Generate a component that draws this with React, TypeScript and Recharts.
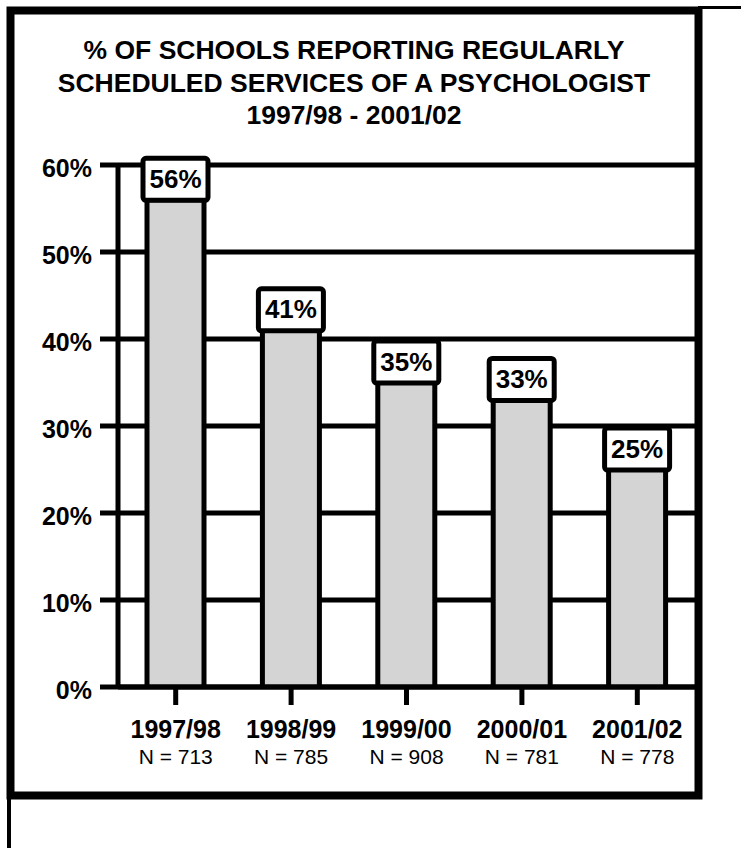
import React from "react";
import {
  BarChart,
  Bar,
  XAxis,
  YAxis,
  CartesianGrid,
  LabelList,
  Customized,
} from "recharts";

// School years surveyed and the share of schools with a scheduled psychologist
const years = ["1997/98", "1998/99", "1999/00", "2000/01", "2001/02"];
const sampleSizes = [713, 785, 908, 781, 778];
const percentValues = [56, 41, 35, 33, 25];
const yTicks = [0, 10, 20, 30, 40, 50, 60];
const titleLines = [
  "% OF SCHOOLS REPORTING REGULARLY",
  "SCHEDULED SERVICES OF A PSYCHOLOGIST",
  "1997/98 - 2001/02",
];

const data = years.map((year, i) => ({
  year,
  n: sampleSizes[i],
  value: percentValues[i],
}));

const FONT = '"Liberation Sans", Arial, Helvetica, sans-serif';
const W = 741;
const H = 848;

const YTick = (props: any) => {
  const { x, y, payload } = props;
  return (
    <text
      x={x}
      y={y + 12}
      textAnchor="end"
      fontFamily={FONT}
      fontWeight="bold"
      fontSize={25}
      fill="#000"
    >
      {`${payload.value}%`}
    </text>
  );
};

const XTick = (props: any) => {
  const { x, y, payload, index } = props;
  const n = sampleSizes[index] ?? data.find((d) => d.year === payload.value)?.n;
  return (
    <g>
      <text
        x={x}
        y={y + 31}
        textAnchor="middle"
        fontFamily={FONT}
        fontWeight="bold"
        fontSize={25}
        fill="#000"
      >
        {payload.value}
      </text>
      <text
        x={x}
        y={y + 57}
        textAnchor="middle"
        fontFamily={FONT}
        fontSize={21}
        fill="#000"
      >
        {`N = ${n}`}
      </text>
    </g>
  );
};

// Boxed percentage label sitting on top of each bar
const ValueBox = (props: any) => {
  const { x, y, width, value } = props;
  const cx = x + width / 2;
  const boxW = 65;
  const boxH = 42;
  return (
    <g>
      <rect
        x={cx - boxW / 2}
        y={y - boxH + 0.5}
        width={boxW}
        height={boxH}
        rx={3}
        ry={3}
        fill="#fff"
        stroke="#000"
        strokeWidth={5}
      />
      <text
        x={cx}
        y={y - 12}
        textAnchor="middle"
        fontFamily={FONT}
        fontWeight="bold"
        fontSize={26}
        fill="#000"
      >
        {`${value}%`}
      </text>
    </g>
  );
};

// Page frame and heading
const FrameAndTitle = () => (
  <g>
    <rect
      x={10.5}
      y={10.5}
      width={688}
      height={785}
      fill="none"
      stroke="#000"
      strokeWidth={8}
    />
    <line x1={698} y1={7.5} x2={W} y2={7.5} stroke="#000" strokeWidth={3} />
    <line x1={9} y1={795} x2={9} y2={H} stroke="#000" strokeWidth={4} />
    {titleLines.map((t, i) => (
      <text
        key={i}
        x={354}
        y={59 + i * 32.5}
        textAnchor="middle"
        fontFamily={FONT}
        fontWeight="bold"
        fontSize={26.5}
        fill="#000"
      >
        {t}
      </text>
    ))}
  </g>
);

export default function App() {
  return (
    <div
      style={{
        position: "absolute",
        left: 0,
        top: 0,
        width: W,
        height: H,
        background: "#fff",
      }}
    >
      <BarChart
        width={W}
        height={H}
        data={data}
        margin={{ top: 165, right: 46, bottom: 101, left: 18 }}
      >
        <Customized component={FrameAndTitle} />
        <CartesianGrid
          vertical={false}
          stroke="#000"
          strokeWidth={5}
          strokeOpacity={1}
        />
        <YAxis
          width={100}
          domain={[0, 60]}
          ticks={yTicks}
          interval={0}
          allowDataOverflow
          tickSize={18}
          tickMargin={8}
          axisLine={{ stroke: "#000", strokeWidth: 5 }}
          tickLine={{ stroke: "#000", strokeWidth: 5 }}
          tick={<YTick />}
        />
        <XAxis
          dataKey="year"
          height={60}
          interval={0}
          tickSize={18}
          tickMargin={2}
          axisLine={{ stroke: "#000", strokeWidth: 5 }}
          tickLine={{ stroke: "#000", strokeWidth: 5 }}
          tick={<XTick />}
        />
        <Bar
          dataKey="value"
          barSize={57}
          fill="#d4d4d4"
          stroke="#000"
          strokeWidth={5}
          isAnimationActive={false}
        >
          <LabelList dataKey="value" content={<ValueBox />} />
        </Bar>
      </BarChart>
    </div>
  );
}
